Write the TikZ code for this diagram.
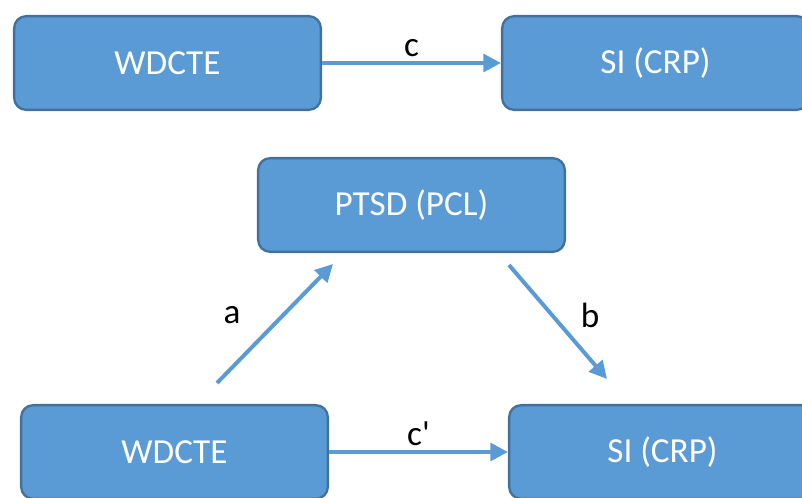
\documentclass[tikz,border=0pt]{standalone}
\usepackage{fontspec}
\setmainfont{Carlito}
\usetikzlibrary{arrows.meta,positioning}
\definecolor{boxfill}{HTML}{5B9BD5}
\definecolor{boxline}{HTML}{41719C}

\begin{document}
\begin{tikzpicture}[x=0.03cm,y=-0.03cm,
   box/.style={draw=boxline, fill=boxfill, line width=2pt, rounded corners=0.36cm,
     minimum width=9.2cm, minimum height=2.81cm, text=white, font=\fontsize{30}{36}\selectfont},
   arr/.style={draw=boxfill, line width=3.4pt, -{Triangle[length=15pt,width=15pt]}},
   lbl/.style={font=\fontsize{30}{36}\selectfont}]

   \useasboundingbox (0,0) rectangle (802,497);
   \clip (0,0) rectangle (802,497);

   % total effect
   \node[box] (wdcteA) at (167.5,63) {WDCTE};
   \node[box] (siA) at (655.5,63) {SI (CRP)};
   \draw[arr] (wdcteA) -- node[lbl, above] {c} (siA);

   % mediation
   \node[box] (ptsd) at (411.5,205) {PTSD (PCL)};
   \node[box] (wdcteB) at (174.5,452) {WDCTE};
   \node[box] (siB) at (662.5,452) {SI (CRP)};

   \coordinate (aFrom) at (217,383);
   \coordinate (aTo) at (333,264);
   \coordinate (bFrom) at (509,265);
   \coordinate (bTo) at (607,379);

   \draw[arr] (aFrom) -- (aTo);
   \draw[arr] (bFrom) -- (bTo);
   \draw[arr] (wdcteB) -- node[lbl, above] {c\textquotesingle} (siB);

   \node[lbl] (aLabel) at (232,315) {a};
   \node[lbl] (bLabel) at (590,315) {b};

 \end{tikzpicture}
\end{document}
